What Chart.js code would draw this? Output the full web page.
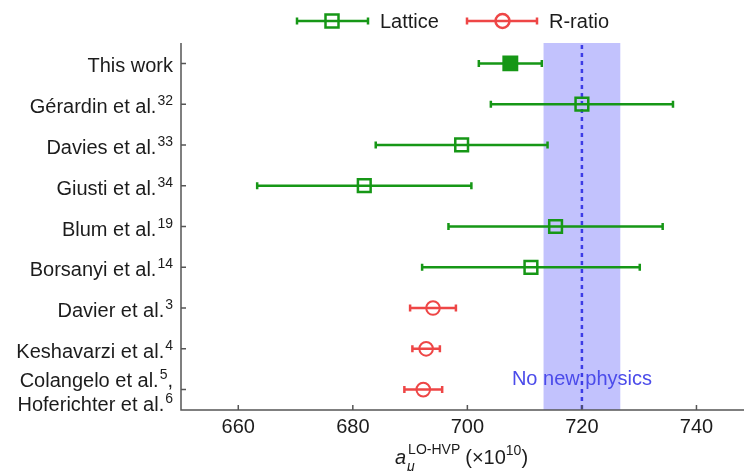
<!DOCTYPE html>
<html>
<head>
<meta charset="utf-8">
<script src="https://cdn.jsdelivr.net/npm/chart.js@4.4.1/dist/chart.umd.min.js"></script>
<style>
html, body { margin: 0; padding: 0; background: #fff; }
canvas { display: block; }
</style>
</head>
<body>
<canvas id="grafico" width="744" height="471"></canvas>
<script>
// Studies (top to bottom), reference numbers shown as superscripts
const studies = ['This work', 'Gérardin et al.', 'Davies et al.', 'Giusti et al.', 'Blum et al.',
    'Borsanyi et al.', 'Davier et al.', 'Keshavarzi et al.', 'Colangelo et al.'];
const refNumbers = ['', '32', '33', '34', '19', '14', '3', '4', '5'];
const lastSecondLine = 'Hoferichter et al.';
const lastSecondRef = '6';
const methods = ['lattice', 'lattice', 'lattice', 'lattice', 'lattice', 'lattice', 'ratio', 'ratio', 'ratio'];

// a_mu LO-HVP (x10^10): central value and error
const centralValues = [707.5, 720.0, 699.0, 682.0, 715.4, 711.1, 694.0, 692.8, 692.3];
const errorValues = [5.5, 15.9, 15.0, 18.7, 18.7, 19.0, 4.0, 2.4, 3.3];

// "No new physics" band and line
const noNewPhysicsBand = [713.3, 726.7];
const noNewPhysicsValue = 720;

const xTicks = [660, 680, 700, 720, 740];

const VERDE = '#169716';
const ROSSO = '#ee4646';
const BLU = '#3c3ce6';
const TESTO = '#1c1c1c';
const FONT = '"Liberation Sans", Arial, sans-serif';

const latticeIdx = studies.map((s, i) => i).filter(i => methods[i] === 'lattice');
const ratioIdx = studies.map((s, i) => i).filter(i => methods[i] === 'ratio');

// draws "text" + superscript ref (+ trailing), right aligned
function etichetta(ctx, right, baseline, text, sup, trailing) {
    ctx.textAlign = 'left';
    ctx.textBaseline = 'alphabetic';
    ctx.font = '20px ' + FONT;
    const wTrail = trailing ? ctx.measureText(trailing).width : 0;
    const wText = ctx.measureText(text).width;
    ctx.font = '14px ' + FONT;
    const wSup = sup ? ctx.measureText(sup).width + 1 : 0;
    let x = right - wTrail - wSup - wText;
    ctx.font = '20px ' + FONT;
    ctx.fillText(text, x, baseline);
    x += wText + 1;
    if (sup) {
        ctx.font = '14px ' + FONT;
        ctx.fillText(sup, x, baseline - 8);
        x += wSup - 1;
    }
    if (trailing) {
        ctx.font = '20px ' + FONT;
        ctx.fillText(trailing, x, baseline);
    }
}

const extras = {
    id: 'extras',
    beforeDatasetsDraw(chart) {
        const { ctx, chartArea: a, scales: { x, y } } = chart;
        ctx.save();
        // band
        const b1 = x.getPixelForValue(noNewPhysicsBand[0]);
        const b2 = x.getPixelForValue(noNewPhysicsBand[1]);
        ctx.fillStyle = '#c2c2fd';
        ctx.fillRect(b1, a.top, b2 - b1, a.bottom - a.top);

        const lx = x.getPixelForValue(noNewPhysicsValue);
        ctx.fillStyle = '#4b4bea';
        ctx.font = '20px ' + FONT;
        ctx.textAlign = 'center';
        ctx.textBaseline = 'alphabetic';
        ctx.fillText('No new physics', lx, a.bottom - 25);

        // dotted line
        ctx.strokeStyle = BLU;
        ctx.lineWidth = 2.5;
        ctx.setLineDash([4, 4]);
        ctx.beginPath();
        ctx.moveTo(lx, a.top + 2);
        ctx.lineTo(lx, a.bottom);
        ctx.stroke();
        ctx.setLineDash([]);

        // error bars
        ctx.lineWidth = 2.5;
        centralValues.forEach((v, i) => {
            const py = y.getPixelForValue(i);
            const x1 = x.getPixelForValue(v - errorValues[i]);
            const x2 = x.getPixelForValue(v + errorValues[i]);
            ctx.strokeStyle = methods[i] === 'lattice' ? VERDE : ROSSO;
            ctx.beginPath();
            ctx.moveTo(x1, py); ctx.lineTo(x2, py);
            ctx.moveTo(x1, py - 3.5); ctx.lineTo(x1, py + 3.5);
            ctx.moveTo(x2, py - 3.5); ctx.lineTo(x2, py + 3.5);
            ctx.stroke();
        });
        ctx.restore();
    },
    afterDraw(chart) {
        const { ctx, chartArea: a, scales: { x, y } } = chart;
        ctx.save();
        // axes with inward ticks
        ctx.strokeStyle = '#555';
        ctx.lineWidth = 1.5;
        ctx.beginPath();
        ctx.moveTo(a.left, a.top); ctx.lineTo(a.left, a.bottom); ctx.lineTo(a.right, a.bottom);
        studies.forEach((s, i) => {
            const py = y.getPixelForValue(i);
            ctx.moveTo(a.left, py); ctx.lineTo(a.left + 5, py);
        });
        xTicks.forEach(v => {
            const px = x.getPixelForValue(v);
            ctx.moveTo(px, a.bottom); ctx.lineTo(px, a.bottom - 5);
        });
        ctx.stroke();

        // y labels
        ctx.fillStyle = TESTO;
        const right = a.left - 8;
        studies.forEach((s, i) => {
            const py = y.getPixelForValue(i);
            if (i === studies.length - 1) {
                etichetta(ctx, right, py - 3, s, refNumbers[i], ',');
                etichetta(ctx, right, py + 21, lastSecondLine, lastSecondRef, '');
            } else {
                etichetta(ctx, right, py + 9, s, refNumbers[i], '');
            }
        });

        // x title
        let tx = 395;
        const tb = 464;
        ctx.textAlign = 'left';
        ctx.textBaseline = 'alphabetic';
        ctx.font = 'italic 20px ' + FONT;
        ctx.fillText('a', tx, tb);
        const wa = ctx.measureText('a').width;
        ctx.font = 'italic 14px ' + FONT;
        ctx.fillText('μ', tx + wa + 1, tb + 7);
        ctx.font = '14px ' + FONT;
        ctx.fillText('LO-HVP', tx + wa + 2, tb - 10);
        tx += wa + 2 + ctx.measureText('LO-HVP').width + 5;
        ctx.font = '20px ' + FONT;
        ctx.fillText('(×10', tx, tb);
        tx += ctx.measureText('(×10').width;
        ctx.font = '14px ' + FONT;
        ctx.fillText('10', tx, tb - 9);
        tx += ctx.measureText('10').width;
        ctx.font = '20px ' + FONT;
        ctx.fillText(')', tx, tb);

        // legend
        ctx.lineWidth = 2.5;
        ctx.strokeStyle = VERDE;
        ctx.beginPath();
        ctx.moveTo(297, 21); ctx.lineTo(368, 21);
        ctx.moveTo(297, 17.5); ctx.lineTo(297, 24.5);
        ctx.moveTo(368, 17.5); ctx.lineTo(368, 24.5);
        ctx.stroke();
        ctx.fillStyle = '#fff';
        ctx.fillRect(325.5, 14.5, 13, 13);
        ctx.strokeRect(325.5, 14.5, 13, 13);
        ctx.beginPath();
        ctx.moveTo(325.5, 21); ctx.lineTo(338.5, 21);
        ctx.stroke();

        ctx.strokeStyle = ROSSO;
        ctx.beginPath();
        ctx.moveTo(467, 21); ctx.lineTo(537, 21);
        ctx.moveTo(467, 17.5); ctx.lineTo(467, 24.5);
        ctx.moveTo(537, 17.5); ctx.lineTo(537, 24.5);
        ctx.stroke();
        ctx.beginPath();
        ctx.arc(502.5, 21, 7, 0, Math.PI * 2);
        ctx.stroke();

        ctx.fillStyle = TESTO;
        ctx.font = '20px ' + FONT;
        ctx.fillText('Lattice', 380, 28);
        ctx.fillText('R-ratio', 549, 28);
        ctx.restore();
    }
};

const ctx = document.getElementById('grafico').getContext('2d');
new Chart(ctx, {
    type: 'scatter',
    data: {
        datasets: [{
            label: 'Lattice',
            data: latticeIdx.map(i => ({ x: centralValues[i], y: i })),
            pointStyle: 'rect',
            pointRadius: latticeIdx.map(i => i === 0 ? 9.5 : 9),
            borderColor: VERDE,
            backgroundColor: latticeIdx.map(i => i === 0 ? VERDE : 'rgba(0,0,0,0)'),
            borderWidth: 2.5
        }, {
            label: 'R-ratio',
            data: ratioIdx.map(i => ({ x: centralValues[i], y: i })),
            pointStyle: 'circle',
            pointRadius: 6.8,
            borderColor: ROSSO,
            backgroundColor: 'rgba(0,0,0,0)',
            borderWidth: 2
        }]
    },
    options: {
        responsive: false,
        animation: false,
        devicePixelRatio: 1,
        layout: { autoPadding: false, padding: { top: 43, right: 0, left: 0, bottom: 0 } },
        plugins: {
            legend: { display: false },
            tooltip: { enabled: false }
        },
        scales: {
            x: {
                type: 'linear',
                min: 650,
                max: 748.3,
                grid: { display: false, drawTicks: false },
                border: { display: false },
                afterBuildTicks: scale => { scale.ticks = xTicks.map(v => ({ value: v })); },
                afterFit: scale => {
                    scale.height = 61;
                    scale.paddingLeft = 0;
                    scale.paddingRight = 0;
                },
                ticks: {
                    padding: 5,
                    color: TESTO,
                    font: { family: FONT, size: 20 },
                    maxRotation: 0
                }
            },
            y: {
                type: 'linear',
                reverse: true,
                min: -0.5,
                max: 8.5,
                grid: { display: false, drawTicks: false },
                border: { display: false },
                ticks: { display: false },
                afterFit: scale => {
                    scale.width = 181;
                    scale.paddingTop = 0;
                    scale.paddingBottom = 0;
                }
            }
        }
    },
    plugins: [extras]
});
</script>
</body>
</html>
